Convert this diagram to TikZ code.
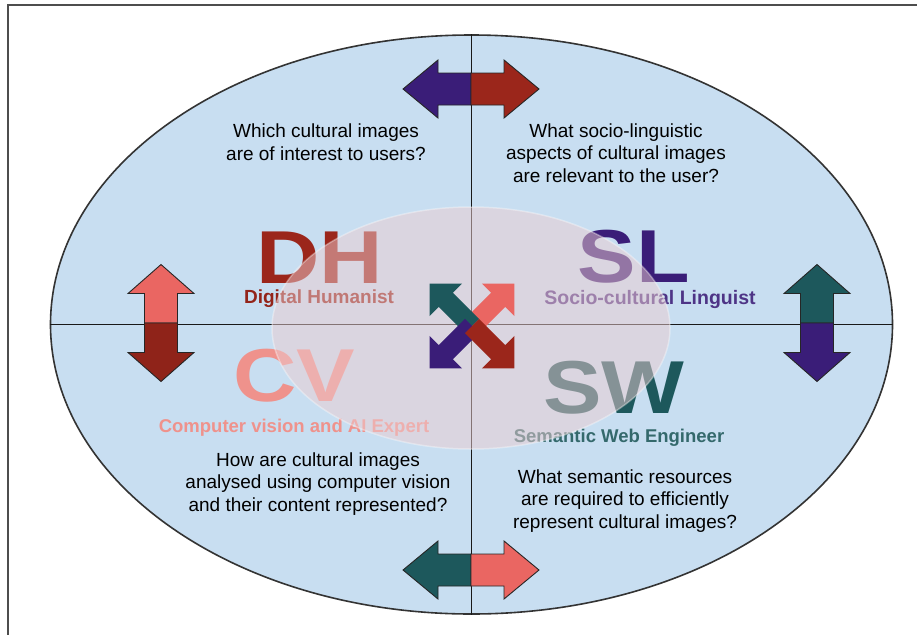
\documentclass[tikz,border=0pt]{standalone}
\usepackage{fontspec}
\setmainfont{Liberation Sans}
\usetikzlibrary{shapes.geometric}

\definecolor{fieldblue}{HTML}{C8DEF1}
\definecolor{overlap}{HTML}{EDCDD0}
\definecolor{dhred}{HTML}{9B261B}
\definecolor{slpurple}{HTML}{3A1D78}
\definecolor{swteal}{HTML}{1D585C}
\definecolor{cvsalmon}{HTML}{EA6662}
\definecolor{cvlight}{HTML}{EF928C}
\definecolor{framegray}{HTML}{4D4D4D}

\begin{document}
\begin{tikzpicture}[x=1pt,y=-1pt,
  question/.style={align=center, font=\fontsize{19}{22.5}\selectfont, text=black, inner sep=0pt},
  initials/.style={font=\fontsize{75}{75}\selectfont\bfseries, xscale=1.17, inner sep=0pt},
  role/.style={font=\fontsize{18.5}{20}\selectfont\bfseries, inner sep=0pt},
  arrowline/.style={draw=black!85, line width=0.9pt, line join=miter},
  % half of a horizontal double arrow, pointing along +x
  hhalf/.pic={\path[pic actions] (0,-16) -- (33,-16) -- (33,-29) -- (68,0) -- (33,29) -- (33,16) -- (0,16) -- cycle;},
  % half of a vertical double arrow, pointing along +x before rotation
  vhalf/.pic={\path[pic actions] (0,-16.5) -- (29.5,-16.5) -- (29.5,-33) -- (58.5,0) -- (29.5,33) -- (29.5,16.5) -- (0,16.5) -- cycle;},
  % one arm of the central cross of arrows
  arm/.pic={\path[pic actions] (0,-10) -- (37,-10) -- (37,-23) -- (60,0) -- (37,23) -- (37,10) -- (0,10) -- cycle;},
]
\useasboundingbox (0,0) rectangle (917,635);
\fill[white] (0,0) rectangle (917,635);

% page frame
\coordinate (fcorner) at (8,5);
\coordinate (fright) at (917,5);
\coordinate (fbottom) at (8,635);
\draw[framegray, line width=1.4pt] (fright) -- (fcorner) -- (fbottom);

% outer field and quadrant lines
\node[ellipse, minimum width=842pt, minimum height=579pt, inner sep=0pt,
      fill=fieldblue, draw=black!80, line width=1.6pt] (field) at (471.5,324.5) {};
\draw[black!90, line width=1pt] (field.north) -- (field.south);
\draw[black!90, line width=1pt] (field.west) -- (field.east);

% questions
\node[question] (q1) at (326,142) {Which cultural images\\are of interest to users?};
\node[question] (q2) at (616,153) {What socio-linguistic\\aspects of cultural images\\are relevant to the user?};
\node[question] (q3) at (318,484) {How are cultural images\\analysed using computer vision\\and their content represented?};
\node[question] (q4) at (625,501) {What semantic resources\\are required to efficiently\\represent cultural images?};

% roles
\node[initials, text=dhred] (dh) at (319.5,258) {DH};
\node[role, font=\fontsize{19}{20}\selectfont\bfseries, text=dhred!95!black] (dhl) at (319,299) {Digital Humanist};
\node[initials, text=slpurple] (sl) at (634,257) {SL};
\node[role, font=\fontsize{19.5}{20}\selectfont\bfseries, text=slpurple!90!white] (sll) at (650,299) {Socio-cultural Linguist};
\node[initials, text=cvlight] (cv) at (294,375.5) {CV};
\node[role, text=cvlight] (cvl) at (294,428) {Computer vision and AI Expert};
\node[initials, text=swteal] (sw) at (614,388) {SW};
\node[role, text=swteal!90!white] (swl) at (619,438) {Semantic Web Engineer};

% shared ground in the middle
\node[ellipse, minimum width=398pt, minimum height=242pt, inner sep=0pt,
      fill=overlap, fill opacity=0.5, draw=white, draw opacity=0.35, line width=1.5pt] (middle) at (471,328) {};

% central cross of arrows
\coordinate (hub) at (472,326);
\pic[fill=cvsalmon, rotate=45] at (hub) {arm};
\pic[fill=swteal, rotate=135] at (hub) {arm};
\pic[fill=slpurple, rotate=225] at (hub) {arm};
\pic[fill=dhred, rotate=315] at (hub) {arm};

% double arrows on the quadrant lines
\coordinate (topmid) at (471,89);
\coordinate (botmid) at (471,570);
\coordinate (leftmid) at (161,323);
\coordinate (rightmid) at (817,323);
\pic[arrowline, fill=slpurple, rotate=180] at (topmid) {hhalf};
\pic[arrowline, fill=dhred] at (topmid) {hhalf};
\pic[arrowline, fill=swteal, rotate=180] at (botmid) {hhalf};
\pic[arrowline, fill=cvsalmon] at (botmid) {hhalf};
\pic[arrowline, fill=cvsalmon, rotate=90] at (leftmid) {vhalf};
\pic[arrowline, fill=dhred!92!black, rotate=-90] at (leftmid) {vhalf};
\pic[arrowline, fill=swteal, rotate=90] at (rightmid) {vhalf};
\pic[arrowline, fill=slpurple, rotate=-90] at (rightmid) {vhalf};
\end{tikzpicture}
\end{document}
